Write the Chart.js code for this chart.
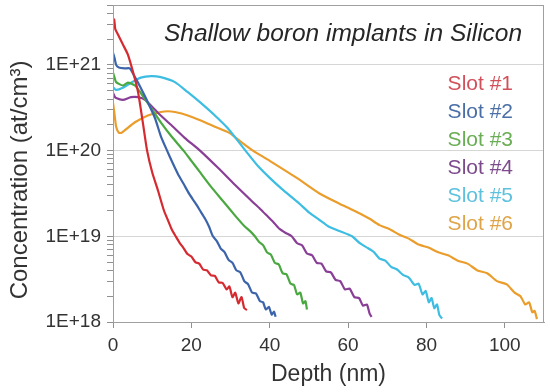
<!DOCTYPE html>
<html>
<head>
<meta charset="utf-8">
<script src="https://cdn.jsdelivr.net/npm/chart.js@4.4.1/dist/chart.umd.min.js"></script>
<style>
  html, body { margin: 0; padding: 0; background: #fff; }
  #wrap { width: 550px; height: 392px; }
</style>
</head>
<body>
<div id="wrap"><canvas id="chart" width="550" height="392"></canvas></div>
<script>
const slotLabels = ['Slot #1', 'Slot #2', 'Slot #3', 'Slot #4', 'Slot #5', 'Slot #6'];
const lineColors = ['#d42a30', '#3b64aa', '#4aa840', '#8a3f96', '#3dbde2', '#eb9d2c'];
const textColors = ['#d2505a', '#4a6ea6', '#69ad55', '#7d4a8c', '#5ec1dd', '#e0a448'];

// depth (nm) / concentration (at/cm3)
const slot1Depth = [0, 0.3, 0.6, 1.3, 2.5, 3.8, 5.1, 6.4, 7.6, 8.7, 10, 11.5, 13, 14, 15, 16, 17, 18, 19, 20, 21, 22, 23, 24, 25, 26, 27, 28, 29, 29.7, 30.5, 31.2, 32, 32.8, 33.5, 34.2];
const slot1Conc = [2.8e21, 3.4e21, 2.6e21, 2.25e21, 1.74e21, 1.32e21, 8.3e20, 4.8e20, 2.15e20, 1.0e20, 5.6e19, 3.4e19, 2.0e19, 1.55e19, 1.2e19, 1.0e19, 8.4e18, 7.3e18, 6.2e18, 5.8e18, 5.0e18, 4.8e18, 4.1e18, 4.0e18, 3.5e18, 3.45e18, 2.9e18, 2.85e18, 2.4e18, 2.6e18, 1.95e18, 2.2e18, 1.65e18, 1.95e18, 1.45e18, 1.38e18];

const slot2Depth = [0, 0.4, 0.8, 1.5, 3, 4.3, 5.6, 7, 8.5, 10.7, 12.2, 13.8, 15.2, 16.6, 18, 19.5, 21, 22.2, 23.5, 24.5, 25.5, 26.5, 27.5, 28.5, 29.5, 30.5, 31.5, 32.5, 33.5, 34.5, 35.5, 36.5, 37.5, 38.3, 39, 39.8, 40.5, 41.1, 41.5];
const slot2Conc = [1.38e21, 1.2e21, 1.0e21, 9.3e20, 9.1e20, 9.1e20, 7.2e20, 5.5e20, 4.0e20, 2.4e20, 1.48e20, 1.0e20, 7.2e19, 5.3e19, 4.1e19, 3.1e19, 2.45e19, 2.0e19, 1.6e19, 1.3e19, 1.0e19, 8.8e18, 7.2e18, 6.5e18, 5.3e18, 4.9e18, 4.0e18, 3.8e18, 3.0e18, 2.75e18, 2.2e18, 2.15e18, 1.75e18, 1.7e18, 1.4e18, 1.5e18, 1.22e18, 1.32e18, 1.15e18];

const slot3Depth = [0, 0.4, 0.8, 2.5, 3.8, 5.6, 7.1, 9.7, 12.2, 15, 18, 20, 22.2, 25, 28, 31, 33.5, 35, 36.2, 37.3, 38.3, 39.3, 40.3, 41.3, 42.3, 43.3, 44.3, 45.3, 46.2, 47, 47.8, 48.5, 49.1, 49.5];
const slot3Conc = [8.1e20, 7.1e20, 6.3e20, 5.75e20, 6.2e20, 5.75e20, 4.7e20, 3.16e20, 2.14e20, 1.45e20, 1.0e20, 7.6e19, 5.6e19, 3.8e19, 2.6e19, 1.78e19, 1.32e19, 1.15e19, 1.0e19, 8.6e18, 7.9e18, 6.5e18, 6.1e18, 4.9e18, 4.7e18, 3.7e18, 3.6e18, 2.8e18, 2.7e18, 2.1e18, 2.2e18, 1.65e18, 1.75e18, 1.4e18];

const slot4Depth = [0, 0.4, 0.8, 2.5, 4.6, 6.4, 8.2, 11.5, 14.8, 18.3, 22.2, 26.8, 31.1, 35.2, 37.5, 39.5, 41, 42.5, 44, 45.6, 47, 48.3, 49.5, 50.8, 52, 53.2, 54.4, 55.6, 56.8, 58, 59.2, 60.4, 61.6, 62.8, 63.8, 64.8, 65.5, 66];
const slot4Conc = [4.7e20, 4.3e20, 4.1e20, 3.9e20, 4.2e20, 4.2e20, 3.9e20, 2.75e20, 2.0e20, 1.41e20, 1.0e20, 6.3e19, 4.0e19, 2.63e19, 2.1e19, 1.7e19, 1.45e19, 1.22e19, 1.1e19, 1.0e19, 8.3e18, 7.8e18, 6.3e18, 6.0e18, 4.9e18, 4.8e18, 3.9e18, 3.8e18, 3.1e18, 3.0e18, 2.4e18, 2.45e18, 1.95e18, 1.9e18, 1.55e18, 1.6e18, 1.25e18, 1.15e18];

const slot5Depth = [0, 0.8, 2.5, 4.6, 7.1, 9.7, 12.2, 15.8, 19.1, 22.4, 26, 29.3, 33.8, 37, 40, 43, 47.6, 50, 52.7, 55, 57.8, 61, 63, 65, 66.5, 68, 69.5, 71, 72.5, 74, 75.5, 77, 78, 79, 79.8, 80.6, 81.3, 82, 82.7, 83.3, 84];
const slot5Conc = [5.5e20, 5.1e20, 5.4e20, 6.2e20, 7.1e20, 7.4e20, 7.2e20, 6.3e20, 4.8e20, 3.6e20, 2.57e20, 1.82e20, 1.0e20, 6.6e19, 4.8e19, 3.6e19, 2.4e19, 1.9e19, 1.55e19, 1.3e19, 1.15e19, 1.0e19, 8.3e18, 7.3e18, 6.6e18, 5.5e18, 5.2e18, 4.4e18, 4.1e18, 3.55e18, 3.3e18, 2.7e18, 2.8e18, 2.1e18, 2.3e18, 1.7e18, 1.9e18, 1.45e18, 1.6e18, 1.2e18, 1.1e18];

const slot6Depth = [0, 0.4, 0.8, 1.5, 2.2, 3.1, 5.6, 8.9, 12.2, 14, 15.8, 19.1, 22.4, 26, 29.8, 33, 35.7, 40, 46.9, 52.7, 57.8, 60.5, 63, 65.5, 68, 70.5, 73, 75.5, 78, 80.5, 83, 85.5, 88, 90.5, 93, 95.5, 98, 100.5, 102.5, 104, 105.2, 106.2, 107, 107.6, 108.2];
const slot6Conc = [3.6e20, 2.63e20, 1.9e20, 1.62e20, 1.62e20, 1.74e20, 2.14e20, 2.57e20, 2.82e20, 2.88e20, 2.82e20, 2.57e20, 2.24e20, 1.9e20, 1.6e20, 1.23e20, 1.0e20, 7.6e19, 4.8e19, 3.16e19, 2.4e19, 2.1e19, 1.85e19, 1.6e19, 1.35e19, 1.22e19, 1.05e19, 9.4e18, 8.0e18, 7.4e18, 6.5e18, 6.0e18, 5.2e18, 4.8e18, 4.0e18, 3.7e18, 3.0e18, 2.75e18, 2.2e18, 2.0e18, 1.6e18, 1.7e18, 1.3e18, 1.35e18, 1.08e18];

const xTicks = [0, 20, 40, 60, 80, 100];
const yDecades = [1e18, 1e19, 1e20, 1e21];

const allDepth = [slot1Depth, slot2Depth, slot3Depth, slot4Depth, slot5Depth, slot6Depth];
const allConc = [slot1Conc, slot2Conc, slot3Conc, slot4Conc, slot5Conc, slot6Conc];

const FONT = '"Liberation Sans", Arial, sans-serif';
const Y_MIN = 1e18;
const Y_MAX = 5e21;

// minor ticks at 1..9 x 10^n, labels only on decades
function logTicks() {
    const out = [];
    for (let e = 18; e <= 21; e++) {
        for (let m = 1; m <= 9; m++) {
            const v = m * Math.pow(10, e);
            if (v <= Y_MAX * 1.0001) out.push({ value: v });
        }
    }
    return out;
}

function isDecade(v) {
    return yDecades.some(d => Math.abs(v / d - 1) < 1e-6);
}

const datasets = allDepth.map((depth, i) => ({
    label: slotLabels[i],
    data: depth.map((d, j) => ({ x: d, y: allConc[i][j] })),
    borderColor: lineColors[i],
    backgroundColor: lineColors[i],
    borderWidth: 2.2,
    pointRadius: 0,
    tension: 0.2,
    fill: false
}));

// box, in-plot title, y title and coloured text legend
const decorPlugin = {
    id: 'decor',
    afterDraw(chart) {
        const { ctx, chartArea } = chart;
        ctx.save();
        ctx.strokeStyle = '#a0a0a0';
        ctx.lineWidth = 1;
        ctx.strokeRect(chartArea.left + 0.5, chartArea.top + 0.5,
            chartArea.right - chartArea.left - 1, chartArea.bottom - chartArea.top);

        ctx.fillStyle = '#262626';
        ctx.font = 'italic 24.5px ' + FONT;
        ctx.textAlign = 'center';
        ctx.textBaseline = 'middle';
        ctx.fillText('Shallow boron implants in Silicon', chartArea.left + 230, chartArea.top + 29);

        ctx.font = '21px ' + FONT;
        ctx.textAlign = 'right';
        slotLabels.forEach((lab, i) => {
            ctx.fillStyle = textColors[i];
            ctx.fillText(lab, chartArea.right - 31, chartArea.top + 79 + i * 28);
        });

        ctx.translate(20, 180);
        ctx.rotate(-Math.PI / 2);
        ctx.fillStyle = '#333';
        ctx.font = '24px ' + FONT;
        ctx.textAlign = 'center';
        ctx.fillText('Concentration (at/cm³)', 0, 0);
        ctx.restore();
    }
};

new Chart(document.getElementById('chart'), {
    type: 'line',
    data: { datasets },
    options: {
        responsive: false,
        animation: false,
        layout: { padding: { top: 5, right: 6, left: 0, bottom: 0 } },
        plugins: {
            legend: { display: false },
            tooltip: { enabled: false }
        },
        scales: {
            x: {
                type: 'linear',
                min: 0,
                max: 110,
                afterBuildTicks: (scale) => { scale.ticks = xTicks.map(v => ({ value: v })); },
                afterFit: (scale) => { scale.height = 70; },
                grid: { drawOnChartArea: false, tickLength: 6, tickColor: '#909090' },
                border: { color: '#a0a0a0' },
                ticks: { font: { size: 19, family: FONT }, color: '#333', padding: 6, maxRotation: 0 },
                title: { display: true, text: 'Depth (nm)', font: { size: 23, family: FONT }, color: '#333', padding: { top: 4, bottom: 4 } }
            },
            y: {
                type: 'logarithmic',
                min: Y_MIN,
                max: Y_MAX,
                afterBuildTicks: (scale) => { scale.ticks = logTicks(); },
                afterFit: (scale) => {
                    scale.width = 113;
                    scale.paddingTop = 0;
                    scale.paddingBottom = 0;
                },
                grid: {
                    color: (c) => (c.tick && isDecade(c.tick.value)) ? '#d6d6d6' : 'rgba(0,0,0,0)',
                    tickColor: '#909090',
                    tickLength: 6
                },
                border: { color: '#a0a0a0' },
                ticks: {
                    autoSkip: false,
                    font: { size: 19, family: FONT },
                    color: '#333',
                    padding: 6,
                    callback: (v) => isDecade(v) ? '1E+' + Math.round(Math.log10(v)) : ''
                },
                title: { display: false }
            }
        }
    },
    plugins: [decorPlugin]
});
</script>
</body>
</html>
